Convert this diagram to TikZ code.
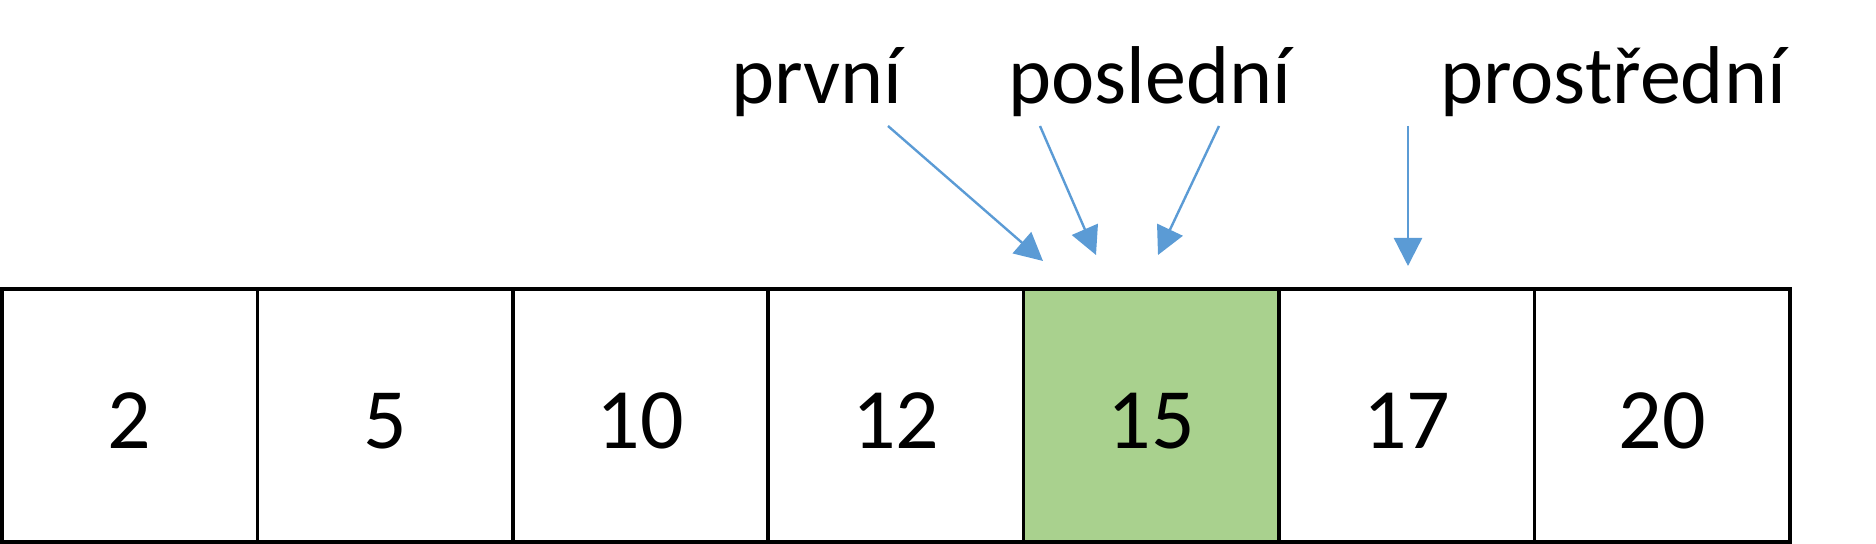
\documentclass[tikz,border=0pt]{standalone}
\usepackage{fontspec}
\setmainfont{Carlito}
\usetikzlibrary{arrows.meta}
\definecolor{cellgreen}{RGB}{169,209,142}
\definecolor{arrowblue}{RGB}{91,155,213}
\begin{document}
\begin{tikzpicture}[x=0.5pt,y=-0.5pt,
  cell/.style={draw=black, line width=1.75pt, minimum width=127.7pt, minimum height=126.5pt, inner sep=0pt, outer sep=0pt, font=\fontsize{43}{50}\selectfont, text height=33.5pt, text depth=0pt},
  lbl/.style={anchor=base west, inner sep=0pt, font=\fontsize{41}{48}\selectfont},
  ptr/.style={draw=arrowblue, line width=1.2pt, -{Triangle[length=14pt,width=14pt]}}]
\useasboundingbox (0,0) rectangle (1876,544);
\node[cell] (c1) at (129.7,415.5) {2};
\node[cell] (c2) at (385.1,415.5) {5};
\node[cell] (c3) at (640.5,415.5) {10};
\node[cell] (c4) at (895.9,415.5) {12};
\node[cell, fill=cellgreen] (c5) at (1151.4,415.5) {15};
\node[cell] (c6) at (1406.8,415.5) {17};
\node[cell] (c7) at (1662.2,415.5) {20};
\node[lbl] (prvni) at (731,104) {první};
\node[lbl] (posledni) at (1008,104) {poslední};
\node[lbl] (prostredni) at (1440,104) {prostřední};
\coordinate (s1) at (888,126);
\coordinate (e1) at (1043,261);
\coordinate (s2) at (1040,126);
\coordinate (e2) at (1096,255);
\coordinate (s3) at (1219,126);
\coordinate (e3) at (1158,255);
\coordinate (s4) at (1408,126);
\coordinate (e4) at (1408,266);
\draw[ptr] (s1) -- (e1);
\draw[ptr] (s2) -- (e2);
\draw[ptr] (s3) -- (e3);
\draw[ptr] (s4) -- (e4);
\end{tikzpicture}
\end{document}
